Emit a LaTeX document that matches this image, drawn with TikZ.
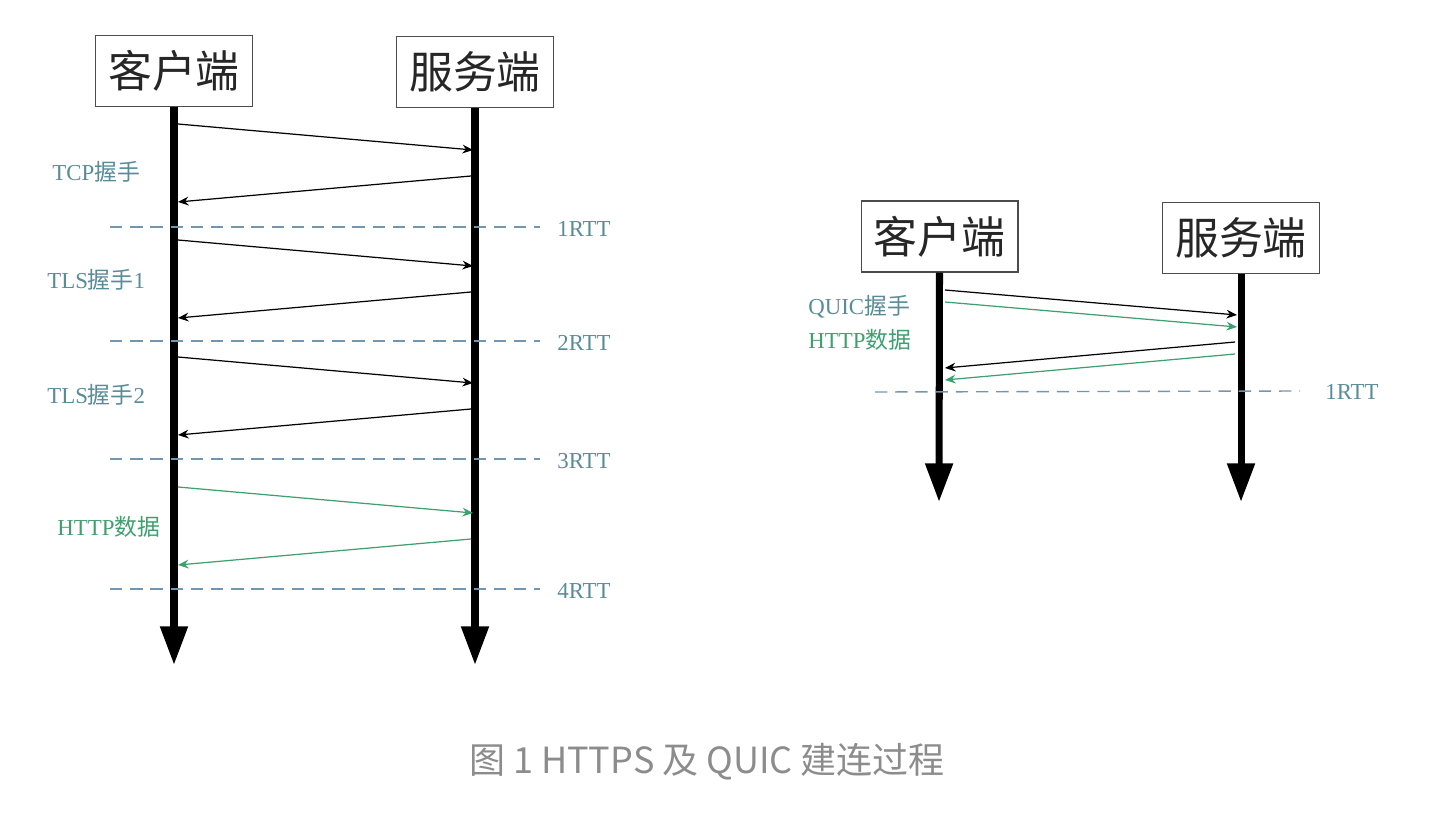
\documentclass[tikz,border=0pt]{standalone}
\usepackage{fontspec}
\setmainfont{Liberation Serif}
\newfontfamily\cjk{Noto Sans CJK SC}
\usetikzlibrary{arrows.meta}

\definecolor{labteal}{RGB}{88,140,152}
\definecolor{dashblue}{RGB}{112,150,178}
\definecolor{msggreen}{RGB}{62,160,110}
\definecolor{capgray}{RGB}{140,140,140}

\begin{document}
\begin{tikzpicture}[
  x=0.02cm, y=-0.02cm,
  party/.style={draw=black!70, line width=0.6pt, minimum width=3.14cm, minimum height=1.42cm,
    inner sep=0pt, text=black!85, font=\cjk\fontsize{25}{25}\selectfont},
  life/.style={line width=4pt, -{Triangle[length=22pt, width=15pt]}},
  msg/.style={draw, line width=0.7pt, -{Stealth[length=6pt, width=5pt]}},
  rtt/.style={dashblue, line width=0.8pt, dash pattern=on 7pt off 4.5pt},
  lab/.style={anchor=west, labteal, font=\fontsize{13}{13}\selectfont, inner sep=0pt}
]
\useasboundingbox (0,0) rectangle (1450,828);

% Left: HTTPS
\node[party] (cl) at (174,71) {客户端};
\node[party] (sv) at (475,72) {服务端};
\coordinate (cle) at (174,665);
\coordinate (sve) at (475,665);
\draw[life] (cl.south) -- (cle);
\draw[life] (sv.south) -- (sve);

% Messages, one round trip each
\foreach \y/\c [count=\i] in {124/black,240/black,357/black,487/msggreen} {
  \coordinate (a\i) at (178,\y);
  \coordinate (b\i) at (473,\y+26);
  \coordinate (c\i) at (471,\y+52);
  \coordinate (d\i) at (178,\y+78);
  \draw[msg, \c] (a\i) -- (b\i);
  \draw[msg, \c] (c\i) -- (d\i);
}

% RTT lines
\foreach \y/\t [count=\i] in {227/1RTT,341/2RTT,459/3RTT,589/4RTT} {
  \coordinate (r\i) at (110,\y);
  \node[lab] (t\i) at (557,\y+2) {\t};
  \draw[rtt] (r\i) -- (540,\y);
}

\node[lab] (tcp) at (52,172) {TCP{\cjk 握手}};
\node[lab] (tls1) at (47,280) {TLS{\cjk 握手}1};
\node[lab] (tls2) at (47,395) {TLS{\cjk 握手}2};
\node[lab, msggreen] (http) at (57,527) {HTTP{\cjk 数据}};

% Right: QUIC
\node[party] (qcl) at (939.5,236.5) {客户端};
\node[party] (qsv) at (1241,238) {服务端};
\coordinate (qcle) at (939,502);
\coordinate (qsve) at (1241,502);
\draw[life] (qcl.south) -- (qcle);
\draw[life] (qsv.south) -- (qsve);

\coordinate (qa) at (945,290);  \coordinate (qb) at (1237,315);
\coordinate (qc) at (945,302);  \coordinate (qd) at (1237,327);
\coordinate (qe) at (1235,342); \coordinate (qf) at (945,368);
\coordinate (qg) at (1235,354); \coordinate (qh) at (945,380);
\draw[msg, black] (qa) -- (qb);
\draw[msg, msggreen] (qc) -- (qd);
\draw[msg, black] (qe) -- (qf);
\draw[msg, msggreen] (qg) -- (qh);

\coordinate (qr) at (875,392);
\node[lab] (qt) at (1325,392) {1RTT};
\draw[rtt] (qr) -- (1300,391);

\node[lab] (quic) at (808,307) {QUIC{\cjk 握手}};
\node[lab, msggreen] (qhttp) at (808,340) {HTTP{\cjk 数据}};

% Caption
\node[capgray, font=\cjk\fontsize{20.5}{20.5}\selectfont] (cap) at (707,762) {图 1 HTTPS 及 QUIC 建连过程};

\end{tikzpicture}
\end{document}
